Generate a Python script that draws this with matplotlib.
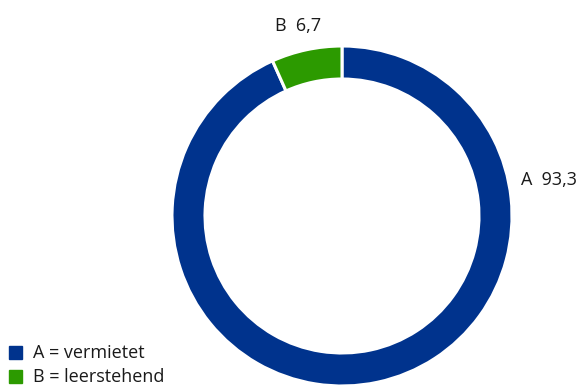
import matplotlib.pyplot as plt

plt.rcParams['font.family'] = ['Open Sans', 'DejaVu Sans']

categories = ['A', 'B']
names = ['vermietet', 'leerstehend']
values = [93.3, 6.7]
colors = ['#00338d', '#2c9a00']


def fmt(v):
    return f'{v:.1f}'.replace('.', ',')


fig = plt.figure(figsize=(5.87, 3.87), dpi=100)
ax = fig.add_axes([0, 0, 1, 1])

wedges, _ = ax.pie(values, colors=colors, startangle=90, counterclock=False,
                   center=(342, 171), radius=170, frame=True,
                   wedgeprops=dict(width=33, edgecolor='white', linewidth=2.2))
ax.set_xlim(0, 587)
ax.set_ylim(0, 387)
ax.set_aspect('equal')
ax.axis('off')

# Werte neben dem Ring
ax.text(521, 207, f'{categories[0]}  {fmt(values[0])}', fontsize=13,
        va='center', ha='left', color='#1a1a1a')
ax.text(275, 361, f'{categories[1]}  {fmt(values[1])}', fontsize=13,
        va='center', ha='left', color='#1a1a1a')

# Legende unten links
for i, (c, n) in enumerate(zip(categories, names)):
    y = 34 - i * 24
    ax.add_patch(plt.Rectangle((9, y - 6), 13, 13, color=colors[i]))
    ax.text(33, y, f'{c} = {n}', fontsize=13, va='center', ha='left',
            color='#1a1a1a')

fig.savefig('out.png', dpi=100)
